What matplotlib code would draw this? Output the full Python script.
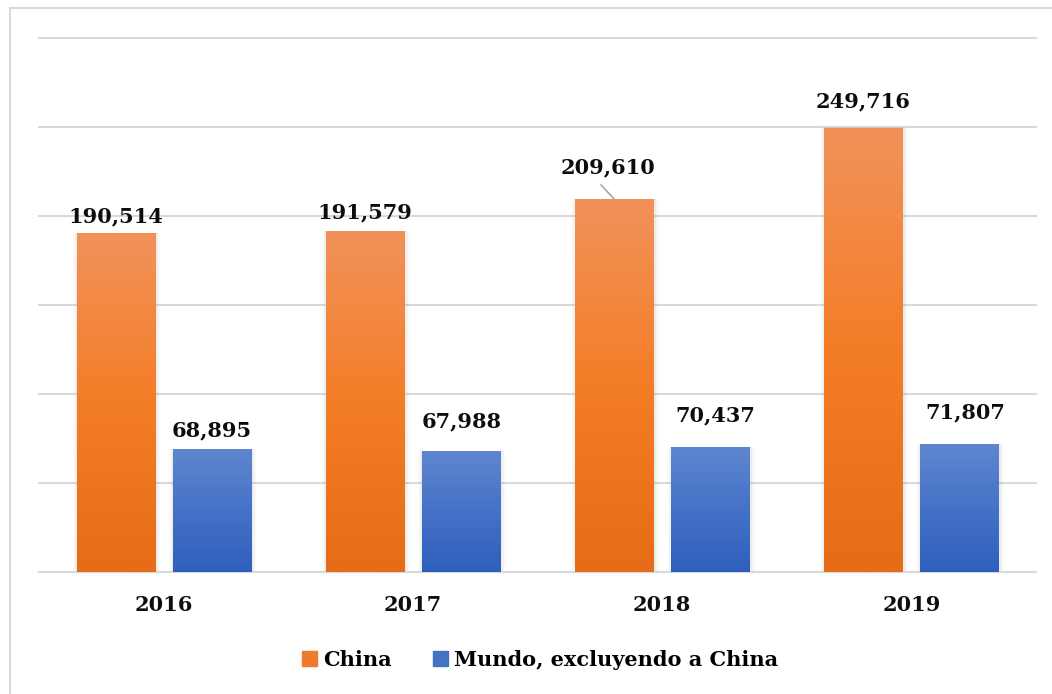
import numpy as np
import matplotlib
matplotlib.use("Agg")
import matplotlib.pyplot as plt
from matplotlib.colors import LinearSegmentedColormap
from matplotlib.patches import Rectangle
from matplotlib.lines import Line2D

years = ["2016", "2017", "2018", "2019"]
china = [190514, 191579, 209610, 249716]
mundo = [68895, 67988, 70437, 71807]
series_names = ["China", "Mundo, excluyendo a China"]

# label offsets (px) relative to bar top centre: (dx, dy)
china_off = [(0, 17), (0, 19), (-6, 32), (0, 26)]
mundo_off = [(0, 19), (1, 30), (5, 31), (6, 32)]

plt.rcParams["font.family"] = ["DejaVu Serif"]
plt.rcParams["font.weight"] = "bold"

fig = plt.figure(figsize=(10.52, 6.94), dpi=100)
ax = fig.add_axes([39 / 1052, 1 - 572 / 694, (1036 - 39) / 1052, (572 - 38) / 694])

orange = LinearSegmentedColormap.from_list("o", ["#E66C17", "#F47D27", "#F1925A"])
blue = LinearSegmentedColormap.from_list("b", ["#2F5FBD", "#4572C8", "#5F86CF"])

width = 0.313
offset = 0.193
x = np.arange(len(years))
FS = 15


def grad_bars(xs, vals, cmap, offs, leader=None):
    bars = ax.bar(xs, vals, width, color="none", zorder=3)
    grad = np.linspace(0, 1, 256).reshape(-1, 1)
    for i, (b, (dx, dy)) in enumerate(zip(bars, offs)):
        x0, w, h = b.get_x(), b.get_width(), b.get_height()
        # soft shadow
        for k, a in enumerate([0.07, 0.05, 0.035]):
            pad = 0.006 * (k + 1)
            ax.add_patch(Rectangle((x0 - pad + 0.004, 0), w + 2 * pad, h + pad * 1500,
                                   color="#808080", alpha=a, lw=0, zorder=2))
        im = ax.imshow(grad, cmap=cmap, origin="lower", aspect="auto",
                       extent=(x0, x0 + w, 0, h), zorder=3)
        im.set_clip_path(b)
        ax.annotate(f"{int(h):,}", (x0 + w / 2, h), xytext=(dx * 0.72, dy * 0.72),
                    textcoords="offset points", ha="center", va="center",
                    fontsize=FS, fontweight="bold", color="#0D0D0D")
        if leader is not None and leader[0] == i:
            ax.annotate("", (x0 + w / 2, h), xytext=(leader[1] * 0.72, leader[2] * 0.72),
                        textcoords="offset points",
                        arrowprops=dict(arrowstyle="-", color="#A6A6A6", lw=1.2,
                                        shrinkA=0, shrinkB=0))
    return bars


grad_bars(x - offset, china, orange, china_off, leader=(2, -13, 14))
grad_bars(x + offset, mundo, blue, mundo_off)

ax.set_xlim(-0.5, len(years) - 0.5)
ax.set_ylim(0, 300000)
ax.set_yticks(np.arange(0, 300001, 50000))
ax.yaxis.grid(True, color="#D9D9D9", lw=1.5, zorder=0)
for gl in ax.get_ygridlines():
    gl.set_clip_on(False)
ax.tick_params(axis="y", left=False, labelleft=False)
ax.tick_params(axis="x", bottom=False, pad=13)
ax.set_xticks(x)
ax.set_xticklabels(years, fontsize=FS, fontweight="bold", color="#0D0D0D")
for s in ["top", "right", "left"]:
    ax.spines[s].set_visible(False)
ax.spines["bottom"].set_color("#D9D9D9")
ax.spines["bottom"].set_linewidth(1.5)
ax.set_facecolor("none")

# legend
handles = [Rectangle((0, 0), 1, 1, color="#EE7A2C"), Rectangle((0, 0), 1, 1, color="#4472C4")]
fig.legend(handles, series_names, loc="center", bbox_to_anchor=(540 / 1052, 1 - 660 / 694),
           ncol=2, frameon=False, handlelength=0.7, handleheight=0.7,
           handletextpad=0.3, columnspacing=2.0,
           prop={"weight": "bold", "size": FS})

# outer border (left and top only visible)
fig.add_artist(Line2D([10 / 1052, 10 / 1052], [0, 1 - 8 / 694], transform=fig.transFigure,
                      color="#D9D9D9", lw=1.5))
fig.add_artist(Line2D([10 / 1052, 1], [1 - 8 / 694, 1 - 8 / 694], transform=fig.transFigure,
                      color="#D9D9D9", lw=1.5))

fig.savefig("out.png", dpi=100)
